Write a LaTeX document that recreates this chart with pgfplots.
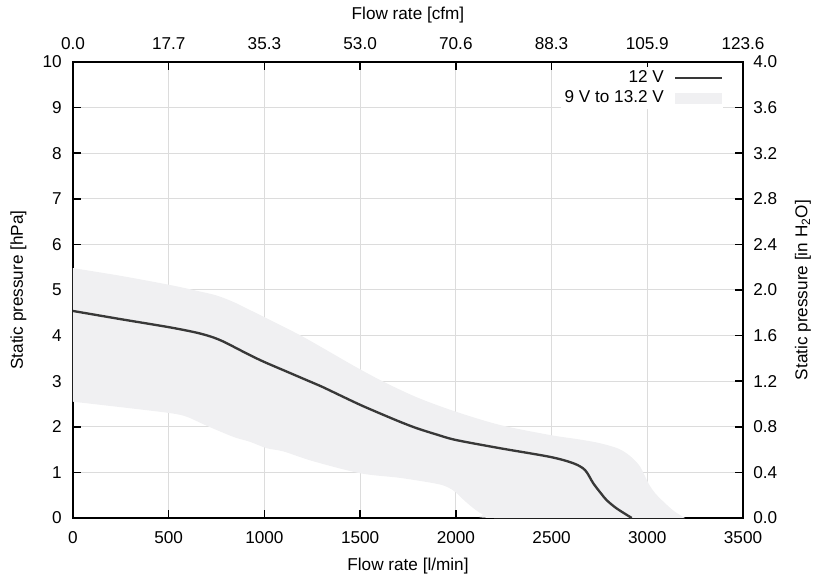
\documentclass[border=0pt]{standalone}
\usepackage{fontspec}
\setmainfont{Liberation Sans}
\usepackage{pgfplots}
\pgfplotsset{compat=1.18}
\usepgfplotslibrary{fillbetween}

\definecolor{curve}{HTML}{383838}
\definecolor{band}{HTML}{F0F0F2}
\definecolor{gridc}{HTML}{DCDCDC}

\pgfplotsset{
  fanaxis/.style={
    scale only axis,
    width=402pt,height=273.6pt,
    xmin=0,xmax=3500,ymin=0,ymax=10,
    xtick={0,500,...,3500},ytick={0,1,...,10},
    tick align=inside,
    major tick length=5pt,
    tick style={black,line width=0.9pt},
    tick label style={font=\fontsize{10.3}{12}\selectfont,
      /pgf/number format/assume math mode=true,
      /pgf/number format/set thousands separator={}},
    label style={font=\fontsize{10.3}{12}\selectfont},
  },
}

\begin{document}
\begin{tikzpicture}
\begin{axis}[fanaxis,name=ax,
  set layers,
  axis line style={black,line width=1pt},
  xtick pos=bottom,ytick pos=left,
  grid=major,grid style={gridc,line width=0.6pt},
  xticklabel style={anchor=base,yshift=-15pt},
  yticklabel style={anchor=east,inner sep=0pt,xshift=-6.6pt},
  xlabel={Flow rate [l/min]},
  ylabel={Static pressure [hPa]},
  xlabel style={at={(rel axis cs:0.5,0)},anchor=base,yshift=-31.2pt},
  % rotated 90 degrees: local y points to the left
  ylabel style={at={(rel axis cs:0,0.5)},anchor=center,yshift=32.7pt},
  reverse legend,
  legend cell align=right,
  legend plot pos=right,
  legend style={at={(rel axis cs:1,1)},anchor=north east,xshift=-12pt,yshift=-3pt,
    draw=none,fill=white,font=\fontsize{10.3}{12}\selectfont,
    row sep=-0.5pt,column sep=4pt,inner sep=0pt},
]
% 9 V to 13.2 V range, upper and lower edges
\addplot[name path=up,draw=none,smooth,forget plot] coordinates {
  (0,5.48)(250,5.31)(507,5.11)(650,4.98)(750,4.88)(837,4.74)(925,4.56)
  (1012,4.38)(1186,4.01)(1325,3.68)(1470,3.33)(1621,2.99)(1800,2.64)
  (2001,2.33)(2231,2.04)(2492,1.82)(2650,1.72)(2753,1.64)(2850,1.52)
  (2910,1.36)(2962,1.13)(3006,0.76)(3040,0.55)(3084,0.36)(3140,0.15)(3197,0)
  };
\addplot[name path=lo,draw=none,smooth,forget plot] coordinates {
  (0,2.55)(250,2.43)(507,2.30)(594,2.22)(700,2.02)(837,1.78)(925,1.67)
  (1012,1.53)(1099,1.46)(1250,1.25)(1501,0.98)(1708,0.88)(1900,0.75)
  (1960,0.67)(2000,0.56)(2040,0.40)(2090,0.22)(2140,0.08)(2200,0)(3197,0)
  };
\addplot[band,on layer=axis background,
  legend image code/.code={\fill[band] (0cm,-0.11cm) rectangle (0.98cm,0.11cm);}]
  fill between[of=up and lo];
\addlegendentry{9 V to 13.2 V}
% 12 V curve
\addplot[curve,line width=1.4pt,smooth,
  legend image code/.code={\draw[curve,line width=1.4pt] (0cm,0cm) -- (0.98cm,0cm);}]
  coordinates {
  (0,4.54)(250,4.36)(507,4.18)(650,4.06)(733,3.96)(785,3.87)(837,3.76)
  (925,3.57)(1000,3.42)(1100,3.24)(1200,3.06)(1300,2.88)(1400,2.68)
  (1501,2.48)(1600,2.30)(1708,2.11)(1795,1.97)(1900,1.83)(2001,1.71)
  (2231,1.53)(2492,1.34)(2614,1.20)(2675,1.05)(2718,0.76)(2760,0.53)
  (2788,0.39)(2840,0.21)(2919,0)
  };
\addlegendentry{12 V}
\end{axis}
\begin{axis}[fanaxis,
  axis x line*=top,axis y line*=right,
  axis line style={black,line width=1pt,-},
  xticklabels={0.0,17.7,35.3,53.0,70.6,88.3,105.9,123.6},
  yticklabels={0.0,0.4,0.8,1.2,1.6,2.0,2.4,2.8,3.2,3.6,4.0},
  xticklabel style={anchor=base,yshift=7.2pt},
  yticklabel style={anchor=west,inner sep=0pt,xshift=6pt},
  xlabel={Flow rate [cfm]},
  ylabel={Static pressure [in H\textsubscript{2}O]},
  xlabel style={at={(rel axis cs:0.5,1)},anchor=base,yshift=25.2pt},
  ylabel style={at={(rel axis cs:1,0.5)},anchor=center,yshift=-36pt},
]
\end{axis}
\pgfresetboundingbox
\path (ax.south west) ++(-43.8pt,-36.6pt) rectangle ++(489pt,347.4pt);
\end{tikzpicture}
\end{document}
